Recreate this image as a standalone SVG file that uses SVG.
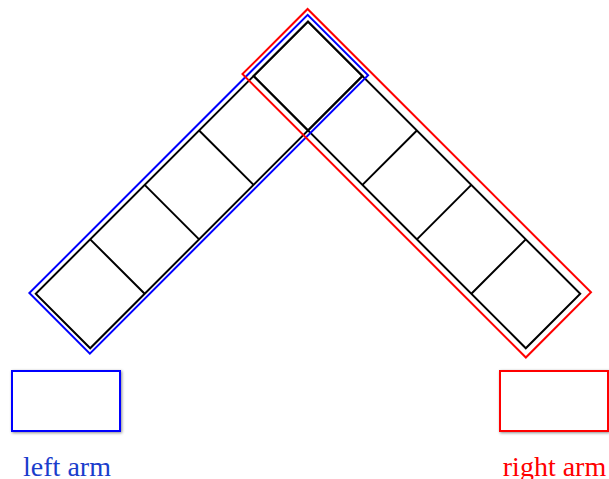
<svg xmlns="http://www.w3.org/2000/svg" width="609" height="479" viewBox="0 0 609 479">
  <style>
    .cell { fill: none; stroke: #000; stroke-width: 2; }
    .blue { fill: none; stroke: #0000ff; stroke-width: 2; }
    .red { fill: none; stroke: #ff0000; stroke-width: 2; }
    .box-blue { fill: #fff; stroke: #0000ff; stroke-width: 2; filter: url(#shadow); }
    .box-red { fill: #fff; stroke: #ff0000; stroke-width: 2; filter: url(#shadow); }
    .label { font-family: "Liberation Serif", "Times New Roman", serif; font-size: 28px; text-anchor: middle; }
  </style>
  <defs>
    <filter id="shadow" x="-20%" y="-20%" width="140%" height="140%">
      <feDropShadow dx="1" dy="1" stdDeviation="1.5" flood-color="#000" flood-opacity="0.45"/>
    </filter>
  </defs>
  <rect width="609" height="479" fill="#fff"/>
  <g transform="translate(308,76) rotate(45)">
    <g id="left-arm">
      <rect class="cell" x="-38.5" y="-38.5" width="77" height="385"/>
      <path class="cell" d="M-38.5,38.5H38.5M-38.5,115.5H38.5M-38.5,192.5H38.5M-38.5,269.5H38.5"/>
    </g>
    <g id="right-arm">
      <rect class="cell" x="-38.5" y="-38.5" width="385" height="77"/>
      <path class="cell" d="M38.5,-38.5V38.5M115.5,-38.5V38.5M192.5,-38.5V38.5M269.5,-38.5V38.5"/>
    </g>
    <g id="left-arm-outline">
      <rect class="blue" x="-43.5" y="-43" width="85.5" height="393.5"/>
    </g>
    <g id="right-arm-outline">
      <rect class="red" x="-47.7" y="-47.1" width="400.8" height="92.1"/>
    </g>
  </g>
  <g id="legend-left">
    <rect class="box-blue" x="12" y="371" width="108" height="60"/>
    <text class="label" x="67" y="476" fill="#1a3dcc">left arm</text>
  </g>
  <g id="legend-right">
    <rect class="box-red" x="500" y="371" width="108" height="60"/>
    <text class="label" x="554.5" y="476" fill="#ff0000">right arm</text>
  </g>
</svg>
